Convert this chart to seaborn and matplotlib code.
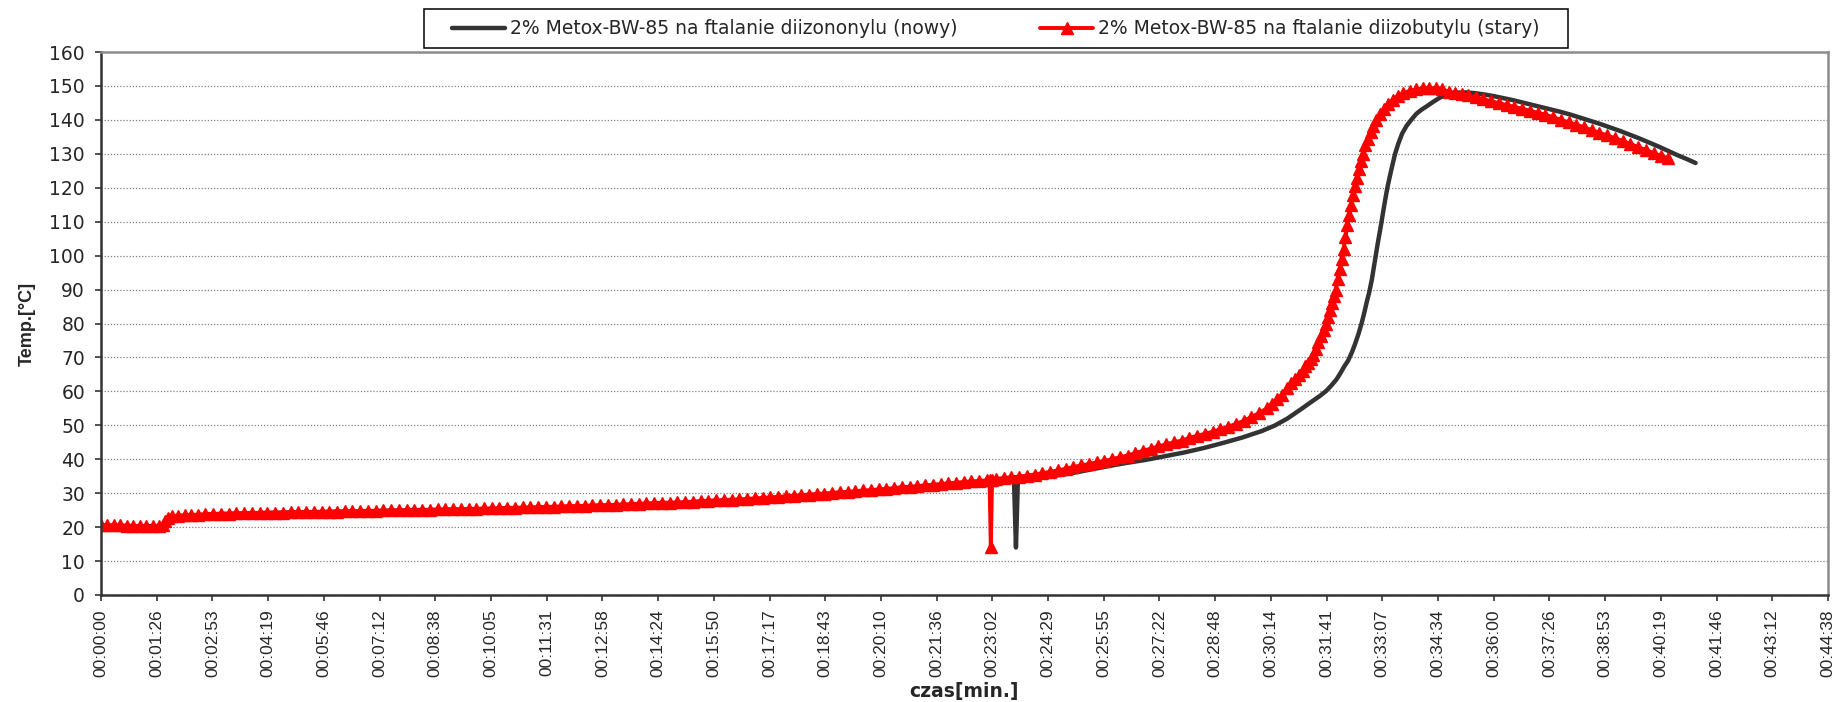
import matplotlib
matplotlib.use("Agg")
import matplotlib.pyplot as plt
from matplotlib.patches import Rectangle
import seaborn as sns

# time [s] and temperature [deg C]
black_time = [0, 30, 60, 90, 98, 104, 112, 140, 180, 240,
              300, 360, 420, 480, 540, 600, 660, 720, 780, 840,
              900, 960, 1020, 1080, 1140, 1200, 1260, 1320, 1380, 1410,
              1416, 1419, 1422, 1440, 1470, 1500, 1530, 1560, 1590, 1620,
              1650, 1680, 1710, 1740, 1770, 1800, 1820, 1840, 1860, 1880,
              1890, 1900, 1908, 1916, 1922, 1928, 1934, 1940, 1945, 1950,
              1955, 1959, 1963, 1967, 1971, 1974, 1977, 1980, 1983, 1986,
              1989, 1992, 1995, 1999, 2003, 2007, 2012, 2018, 2025, 2032,
              2040, 2048, 2056, 2066, 2076, 2087, 2100, 2115, 2130, 2145,
              2160, 2175, 2190, 2205, 2220, 2235, 2250, 2265, 2280, 2295,
              2310, 2325, 2340, 2355, 2370, 2385, 2400, 2415, 2430, 2445,
              2460, 2473]
black_temp = [20.4, 20.4, 20.2, 20.3, 20.5, 22.4, 23.0, 23.4, 23.8, 24.1,
              24.3, 24.5, 24.7, 24.9, 25.1, 25.3, 25.6, 25.9, 26.2, 26.6,
              27.0, 27.6, 28.2, 28.9, 29.7, 30.5, 31.3, 32.2, 33.1, 33.6,
              33.7, 14.0, 33.9, 34.2, 34.9, 35.7, 36.8, 37.9, 38.9, 39.8,
              40.9, 42.0, 43.3, 44.8, 46.4, 48.3, 49.9, 52.0, 54.6, 57.3,
              58.6, 60.1, 61.7, 63.5, 65.3, 67.3, 69.0, 71.5, 74.0, 76.8,
              80.0, 83.0, 86.3, 89.3, 93.0, 96.5, 100.0, 103.5, 106.7, 110.0,
              113.5, 116.8, 120.0, 123.5, 126.8, 130.0, 133.0, 136.0, 138.3, 140.0,
              141.8, 143.0, 144.0, 145.3, 146.5, 147.5, 148.0, 148.1, 147.9, 147.5,
              147.0, 146.4, 145.8, 145.1, 144.4, 143.7, 143.0, 142.3, 141.5, 140.6,
              139.7, 138.8, 137.8, 136.8, 135.7, 134.6, 133.4, 132.2, 130.9, 129.6,
              128.4, 127.3]

red_time = [0, 10, 20, 30, 40, 50, 60, 70, 80, 90,
            96, 100, 104, 110, 120, 130, 140, 150, 162, 174,
            186, 198, 210, 222, 234, 246, 258, 270, 282, 294,
            306, 318, 330, 342, 354, 366, 378, 390, 402, 414,
            426, 438, 450, 462, 474, 486, 498, 510, 522, 534,
            546, 558, 570, 582, 594, 606, 618, 630, 642, 654,
            666, 678, 690, 702, 714, 726, 738, 750, 762, 774,
            786, 798, 810, 822, 834, 846, 858, 870, 882, 894,
            906, 918, 930, 942, 954, 966, 978, 990, 1002, 1014,
            1026, 1038, 1050, 1062, 1074, 1086, 1098, 1110, 1122, 1134,
            1146, 1158, 1170, 1182, 1194, 1206, 1218, 1230, 1242, 1254,
            1266, 1278, 1290, 1302, 1314, 1326, 1338, 1350, 1362, 1374,
            1378, 1380, 1382, 1388, 1400, 1412, 1424, 1436, 1448, 1460,
            1472, 1484, 1496, 1508, 1520, 1532, 1544, 1556, 1568, 1580,
            1592, 1604, 1616, 1628, 1640, 1652, 1664, 1676, 1688, 1700,
            1712, 1724, 1736, 1748, 1760, 1772, 1784, 1796, 1808, 1816,
            1824, 1832, 1840, 1846, 1852, 1858, 1864, 1868, 1872, 1876,
            1880, 1884, 1888, 1892, 1896, 1900, 1903, 1906, 1909, 1912,
            1915, 1918, 1921, 1924, 1927, 1930, 1933, 1936, 1939, 1942,
            1945, 1948, 1951, 1954, 1957, 1961, 1965, 1969, 1973, 1978,
            1984, 1990, 1996, 2004, 2012, 2020, 2030, 2040, 2050, 2060,
            2070, 2080, 2090, 2100, 2110, 2120, 2132, 2144, 2156, 2168,
            2180, 2192, 2204, 2216, 2228, 2240, 2252, 2264, 2276, 2288,
            2300, 2312, 2324, 2336, 2348, 2360, 2372, 2384, 2396, 2408,
            2420, 2430]
red_temp = [20.6, 20.6, 20.5, 20.5, 20.4, 20.4, 20.3, 20.2, 20.2, 20.3,
            20.5, 21.8, 22.7, 23.2, 23.4, 23.5, 23.6, 23.7, 23.8, 23.9,
            24.0, 24.0, 24.1, 24.1, 24.2, 24.2, 24.3, 24.3, 24.3, 24.4,
            24.4, 24.5, 24.5, 24.5, 24.6, 24.6, 24.7, 24.7, 24.8, 24.8,
            24.8, 24.9, 24.9, 25.0, 25.0, 25.1, 25.1, 25.1, 25.2, 25.2,
            25.3, 25.3, 25.4, 25.4, 25.5, 25.5, 25.6, 25.7, 25.7, 25.8,
            25.8, 25.9, 26.0, 26.0, 26.1, 26.2, 26.2, 26.3, 26.4, 26.5,
            26.5, 26.6, 26.7, 26.8, 26.9, 27.0, 27.1, 27.2, 27.2, 27.3,
            27.4, 27.5, 27.7, 27.8, 27.9, 28.0, 28.1, 28.2, 28.3, 28.5,
            28.6, 28.8, 28.9, 29.1, 29.3, 29.4, 29.6, 29.8, 29.9, 30.1,
            30.3, 30.4, 30.6, 30.8, 30.9, 31.1, 31.3, 31.5, 31.8, 31.9,
            32.1, 32.3, 32.5, 32.7, 32.9, 33.1, 33.3, 33.5, 33.6, 33.8,
            33.9, 14.0, 34.0, 34.2, 34.5, 34.7, 34.9, 35.2, 35.5, 35.9,
            36.3, 36.7, 37.2, 37.7, 38.2, 38.6, 39.1, 39.5, 40.0, 40.6,
            41.1, 41.8, 42.5, 43.1, 43.8, 44.4, 45.0, 45.5, 46.3, 46.9,
            47.5, 48.1, 48.8, 49.6, 50.4, 51.3, 52.4, 53.6, 55.0, 56.3,
            57.7, 59.0, 61.0, 62.4, 63.6, 64.8, 66.0, 67.5, 68.5, 69.6,
            70.7, 72.6, 74.6, 76.3, 78.0, 80.0, 82.0, 84.0, 86.0, 88.0,
            90.0, 93.0, 96.0, 99.0, 102.0, 105.5, 109.0, 112.0, 115.0, 118.0,
            120.5, 123.0, 125.5, 128.0, 130.0, 132.5, 134.5, 136.5, 138.2, 140.0,
            141.8, 143.3, 144.7, 146.0, 147.0, 147.8, 148.6, 149.0, 149.3, 149.4,
            149.3, 149.0, 148.3, 148.0, 147.6, 147.2, 146.7, 146.1, 145.5, 144.9,
            144.4, 143.8, 143.3, 142.7, 142.1, 141.5, 140.8, 140.0, 139.3, 138.6,
            137.8, 137.0, 136.2, 135.4, 134.6, 133.8, 132.9, 132.0, 131.1, 130.2,
            129.3, 128.7]

tick_labels = ["00:00:00", "00:01:26", "00:02:53", "00:04:19", "00:05:46",
               "00:07:12", "00:08:38", "00:10:05", "00:11:31", "00:12:58",
               "00:14:24", "00:15:50", "00:17:17", "00:18:43", "00:20:10",
               "00:21:36", "00:23:02", "00:24:29", "00:25:55", "00:27:22",
               "00:28:48", "00:30:14", "00:31:41", "00:33:07", "00:34:34",
               "00:36:00", "00:37:26", "00:38:53", "00:40:19", "00:41:46",
               "00:43:12", "00:44:38"]

label_black = "2% Metox-BW-85 na ftalanie diizononylu (nowy)"
label_red = "2% Metox-BW-85 na ftalanie diizobutylu (stary)"

sns.set_style("white")
plt.rcParams['font.family'] = ['DejaVu Sans']

W, H = 1837, 702
fig = plt.figure(figsize=(W / 100, H / 100), dpi=100)
ax = fig.add_axes([101 / W, 107 / H, 1727 / W, 543 / H])

sns.lineplot(x=black_time, y=black_temp, ax=ax, color='#333333', lw=3.2,
             label=label_black, sort=False, estimator=None)
sns.lineplot(x=red_time, y=red_temp, ax=ax, color='#ff0000', lw=2.8,
             marker='^', markersize=8, markerfacecolor='#ff0000',
             markeredgecolor='#ff0000', markeredgewidth=1,
             label=label_red, sort=False, estimator=None)

# axes
ax.set_xlim(0, 2678.4)
ax.set_ylim(0, 160)
ax.set_xticks([i * 86.4 for i in range(len(tick_labels))])
ax.set_xticklabels(tick_labels, rotation=90, family='Liberation Sans', fontsize=12.5)
ax.set_yticks(range(0, 161, 10))
ax.tick_params(axis='y', left=True, labelsize=13.5, pad=7, length=4.5, width=1.2,
               direction='out', color='#333333')
ax.tick_params(axis='x', bottom=True, pad=6, length=4.5, width=1.2,
               direction='out', color='#333333')

ax.yaxis.grid(True, linestyle=(0, (1, 1.5)), color='#808080', lw=0.9)
ax.xaxis.grid(False)
ax.set_axisbelow(True)

for side in ['left', 'bottom']:
    ax.spines[side].set_color('#333333')
    ax.spines[side].set_linewidth(1.8)
for side in ['top', 'right']:
    ax.spines[side].set_color('#8c8c8c')
    ax.spines[side].set_linewidth(1.8)

ax.set_xlabel('czas[min.]', fontsize=13.5, fontweight='bold', va='center')
ax.xaxis.set_label_coords(0.5, (595 - 692) / 543)
ax.set_ylabel('Temp.[°C]', family='Liberation Sans', fontsize=13,
              fontweight='bold', va='center')
ax.yaxis.set_label_coords((27 - 101) / 1727, 0.5)

# legend
handles, labels = ax.get_legend_handles_labels()
if ax.get_legend() is not None:
    ax.get_legend().remove()
fig.legend(handles, labels, loc='center', bbox_to_anchor=(996 / W, 1 - 28.7 / H),
           ncol=2, frameon=False, fontsize=13.5, handlelength=2.8,
           handletextpad=0.3, columnspacing=4.4)
fig.add_artist(Rectangle((424 / W, 1 - 48 / H), 1144 / W, 39 / H,
                         transform=fig.transFigure, fill=False,
                         edgecolor='black', lw=1.1))

fig.savefig('out.png', dpi=100)
